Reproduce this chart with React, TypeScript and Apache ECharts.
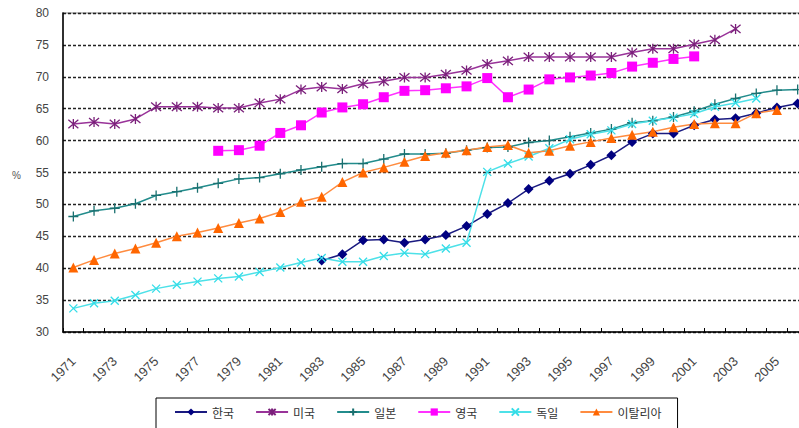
import React, { useEffect, useRef } from "react";
import * as echarts from "echarts";

const years: string[] = [];
for (let y = 1971; y <= 2006; y++) years.push(String(y));

const korea = [null, null, null, null, null, null, null, null, null, null, null, null,
  41.2, 42.2, 44.4, 44.5, 44.0, 44.5, 45.2, 46.6, 48.5, 50.2, 52.4, 53.7, 54.8, 56.2, 57.7, 59.8, 61.1, 61.1, 62.4, 63.3, 63.5, 64.3, 65.2, 65.8];
const usa = [62.6, 62.9, 62.6, 63.4, 65.3, 65.3, 65.3, 65.1, 65.1, 65.9, 66.5, 68.0, 68.4, 68.1, 68.9, 69.3, 69.9, 69.9, 70.4, 71.0, 72.0, 72.5, 73.1, 73.1, 73.1, 73.1, 73.1, 73.8, 74.4, 74.4, 75.1, 75.8, 77.5, null, null, null];
const japan = [48.1, 49.0, 49.4, 50.1, 51.4, 52.0, 52.6, 53.3, 54.0, 54.2, 54.8, 55.4, 55.9, 56.4, 56.4, 57.1, 57.9, 57.9, 58.0, 58.5, 58.9, 59.0, 59.7, 60.0, 60.6, 61.2, 61.8, 62.8, 63.1, 63.7, 64.6, 65.7, 66.6, 67.4, 67.9, 68.0];
const uk = [null, null, null, null, null, null, null, 58.4, 58.5, 59.2, 61.2, 62.4, 64.4, 65.2, 65.7, 66.8, 67.8, 67.9, 68.2, 68.5, 69.8, 66.8, 68.0, 69.6, 69.9, 70.2, 70.6, 71.6, 72.2, 72.8, 73.2, null, null, null, null, null];
const germany = [33.7, 34.5, 34.9, 35.8, 36.8, 37.4, 37.9, 38.4, 38.7, 39.4, 40.1, 40.9, 41.6, 41.0, 41.0, 41.9, 42.4, 42.2, 43.1, 44.0, 55.1, 56.4, 57.5, 58.8, 60.2, 61.0, 61.6, 62.6, 63.1, 63.6, 64.2, 65.3, 65.9, 66.6, null, null];
const italy = [40.1, 41.3, 42.3, 43.1, 44.0, 45.0, 45.6, 46.3, 47.1, 47.8, 48.8, 50.4, 51.2, 53.5, 55.0, 55.8, 56.7, 57.6, 58.1, 58.5, 59.0, 59.3, 58.1, 58.4, 59.2, 59.8, 60.4, 60.9, 61.4, 62.1, 62.6, 62.7, 62.7, 64.3, 64.8, null];

const names = ["한국", "미국", "일본", "영국", "독일", "이탈리아"];

const STAR = "path://M0,0L10,10M0,10L10,0M5,-1L5,11";
const PLUS = "path://M5,0L5,10M0,5L10,5";
const CROSS = "path://M0,0L10,10M0,10L10,0";

const FONT = "'Liberation Sans', Arial, sans-serif";

function mk(name: string, data: (number | null)[], lineColor: string, markColor: string, symbol: string, size: number, stroked: boolean) {
  return {
    name,
    type: "line",
    data,
    symbol,
    symbolSize: size,
    lineStyle: { color: lineColor, width: 1.5 },
    itemStyle: stroked
      ? { color: markColor, borderColor: markColor, borderWidth: 1.3 }
      : { color: markColor, borderColor: markColor, borderWidth: 0 },
    emphasis: { disabled: true },
  };
}

export default function App() {
  const ref = useRef<HTMLDivElement>(null);
  useEffect(() => {
    if (!ref.current) return;
    const chart = echarts.init(ref.current, null, { renderer: "svg" });
    chart.setOption({
      animation: false,
      backgroundColor: "#fff",
      grid: {
        left: 63,
        top: 13,
        right: -9,
        bottom: 96,
        show: true,
        borderColor: "#aaa",
        borderWidth: 1.5,
        outerBoundsMode: "none",
      },
      graphic: [
        { type: "text", left: 12, top: 170, style: { text: "%", fontSize: 10, fill: "#555", fontFamily: FONT } },
      ],
      legend: {
        top: 398,
        left: 156,
        data: names,
        orient: "horizontal",
        itemWidth: 32,
        itemHeight: 9,
        itemGap: 21,
        padding: [8, 16, 20, 18],
        borderColor: "#000",
        borderWidth: 1,
        textStyle: { fontSize: 12, color: "#333", fontFamily: "'Noto Sans CJK KR', sans-serif" },
      },
      xAxis: {
        type: "category",
        data: years,
        boundaryGap: true,
        axisLine: { show: true, lineStyle: { color: "#000", width: 1.5 } },
        axisTick: { show: true, inside: true, length: 4, interval: 0, lineStyle: { color: "#000" } },
        axisLabel: { interval: 1, rotate: 45, margin: 27, fontSize: 13, color: "#444", fontFamily: FONT },
        splitLine: { show: false },
      },
      yAxis: {
        type: "value",
        min: 30,
        max: 80,
        interval: 5,
        axisLine: { show: true, lineStyle: { color: "#000", width: 1.5 } },
        axisTick: { show: false },
        axisLabel: { fontSize: 12, color: "#444", margin: 14, fontFamily: FONT },
        splitLine: { show: true, lineStyle: { color: "#222", type: [3, 2], width: 1.3 } },
      },
      series: [
        mk(names[0], korea, "#1a1a80", "#000080", "diamond", 10, false),
        mk(names[1], usa, "#993399", "#7a1f7a", STAR, 10, true),
        mk(names[2], japan, "#228c8c", "#1a7070", PLUS, 10, true),
        mk(names[3], uk, "#ff33ff", "#ff00ff", "rect", 10, false),
        mk(names[4], germany, "#4de1e8", "#33dde8", CROSS, 8, true),
        mk(names[5], italy, "#ff8c40", "#ff6600", "triangle", 10, false),
      ],
    });
    return () => chart.dispose();
  }, []);
  return <div ref={ref} style={{ position: "fixed", left: 0, top: 0, width: 799, height: 428 }} />;
}
